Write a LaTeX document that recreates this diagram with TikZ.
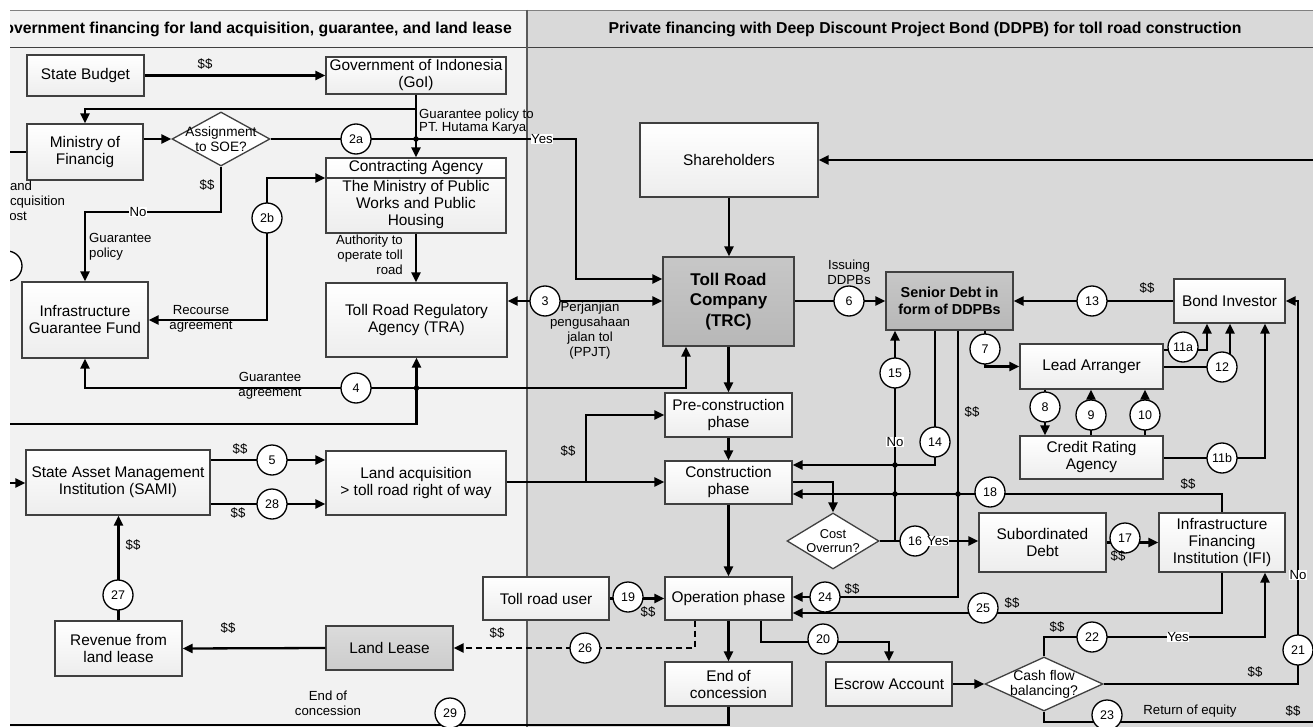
\documentclass[tikz,border=0pt]{standalone}
\usepackage{fontspec}
\setmainfont{Liberation Sans}
\usetikzlibrary{arrows.meta,shapes.geometric,calc}
\definecolor{leftbg}{HTML}{F2F2F2}
\definecolor{rightbg}{HTML}{D9D9D9}
\definecolor{bord}{HTML}{404040}
\newcommand\fsbox{\fontsize{15.4}{17}\selectfont}
\newcommand\fslab{\fontsize{13.2}{15}\selectfont}
\newcommand\fslabt{\fontsize{13.2}{13}\selectfont}
\newcommand\fsnum{\fontsize{12.5}{14}\selectfont}
\newcommand\fshdr{\bfseries\fontsize{15.8}{18}\selectfont}
\newcommand\fstrc{\bfseries\fontsize{17}{20.5}\selectfont}
\newcommand\fssd{\bfseries\fontsize{14.4}{17}\selectfont}
\newcommand\fsdia{\fontsize{13.6}{14.5}\selectfont}
\begin{document}
\begin{tikzpicture}[x=1pt,y=-1pt,>={Triangle[length=10pt,width=9pt]},
  box/.style={draw=bord,line width=1.3pt,top color=white,bottom color=black!7,align=center,font=\fsbox,inner sep=1pt},
  darkbox/.style={box,top color=black!22,bottom color=black!28},
  midbox/.style={box,top color=black!14,bottom color=black!20},
  dia/.style={diamond,draw=bord,line width=1.3pt,fill=white,inner sep=0pt},
  dtext/.style={align=center,font=\fsdia,inner sep=0pt},
  intext/.style={align=center,font=\fsbox,inner sep=0pt},
  conn/.style={line width=2.3pt,draw=black},
  numc/.style={circle,draw=black,line width=1.3pt,fill=white,minimum size=30pt,inner sep=0pt,font=\fsnum},
  lab/.style={font=\fslab,inner sep=1pt,align=center},
  yn/.style={lab,fill=white,inner sep=0.5pt},
  jdot/.style={circle,fill=black,inner sep=0pt,minimum size=5.5pt},
  hdr/.style={font=\fshdr,inner sep=0pt}]
\useasboundingbox (0,0) rectangle (1313,727);
\fill[white] (0,0) rectangle (1313,727);
\begin{scope}
\clip (10,10) rectangle (1313,727);
% panels
\fill[leftbg] (10,10) rectangle (527,727);
\fill[rightbg] (527,10) rectangle (1313,727);
\draw[black!50,line width=1.5pt] (10,10.7) -- (1313,10.7);
\draw[bord,line width=1.5pt] (10,47.5) -- (1313,47.5);
\draw[black!65,line width=2pt] (527,10) -- (527,727);
\node[hdr,anchor=east] (hl) at (512,29) {Government financing for land acquisition, guarantee, and land lease};
\node[hdr] (hr) at (925,29) {Private financing with Deep Discount Project Bond (DDPB) for toll road construction};

% boxes
\node[box,minimum width=117pt,minimum height=41pt] (sb) at (85.5,75.5) {State Budget};
\node[box,minimum width=180pt,minimum height=37pt] (goi) at (416,75.5) {Government of Indonesia\\(GoI)};
\node[box,minimum width=116pt,minimum height=56pt] (mof) at (85,152) {Ministry of\\Financig};
\node[dia,minimum width=98pt,minimum height=54pt] (d1) at (221,139) {};
\node[dtext] (d1t) at (d1) {Assignment\\to SOE?};
\node[box,minimum width=180pt,minimum height=75pt] (ca) at (416,195.5) {};
\draw[bord,line width=1.3pt] (ca.west |- 0,178) -- (ca.east |- 0,178);
\node[intext] (cat) at (416,168) {Contracting Agency};
\node[intext] (cab) at (416,205) {The Ministry of Public\\Works and Public\\Housing};
\node[box,minimum width=126pt,minimum height=76pt] (igf) at (85,320) {Infrastructure\\Guarantee Fund};
\node[box,minimum width=181pt,minimum height=74pt] (tra) at (416.5,320) {Toll Road Regulatory\\Agency (TRA)};
\node[box,minimum width=184pt,minimum height=65pt] (sami) at (118,482.5) {State Asset Management\\Institution (SAMI)};
\node[box,minimum width=180pt,minimum height=64pt] (la) at (416,483) {Land acquisition\\> toll road right of way};
\node[box,minimum width=127pt,minimum height=55pt] (rev) at (118.5,648.5) {Revenue from\\land lease};
\node[midbox,minimum width=127pt,minimum height=44pt] (ll) at (389.5,648) {Land Lease};
\node[box,minimum width=178pt,minimum height=74pt] (sh) at (729,160) {Shareholders};
\node[darkbox,minimum width=131pt,minimum height=89pt,font=\fstrc] (trc) at (728.5,301.5) {Toll Road\\Company\\(TRC)};
\node[box,minimum width=127pt,minimum height=44pt] (pre) at (728.5,415) {Pre-construction\\phase};
\node[box,minimum width=127pt,minimum height=43pt] (con) at (728.5,482.5) {Construction\\phase};
\node[box,minimum width=127pt,minimum height=43pt] (op) at (728.5,598.5) {Operation phase};
\node[box,minimum width=127pt,minimum height=44pt] (eoc) at (728.5,684) {End of\\concession};
\node[box,minimum width=126pt,minimum height=43pt] (tru) at (546,598.5) {Toll road user};
\node[box,minimum width=126pt,minimum height=44pt] (esc) at (889,684) {Escrow Account};
\node[darkbox,minimum width=127pt,minimum height=58pt,font=\fssd] (sd) at (949.5,301) {Senior Debt in\\form of DDPBs};
\node[box,minimum width=111pt,minimum height=44pt] (bi) at (1229.5,301) {Bond Investor};
\node[box,minimum width=143pt,minimum height=45pt] (lar) at (1091.5,366.5) {Lead Arranger};
\node[box,minimum width=143pt,minimum height=43pt] (cra) at (1091.5,457.5) {Credit Rating\\Agency};
\node[box,minimum width=127pt,minimum height=59pt] (sub) at (1042.5,542.5) {Subordinated\\Debt};
\node[box,minimum width=126pt,minimum height=59pt] (ifi) at (1222,542.5) {Infrastructure\\Financing\\Institution (IFI)};
\node[dia,minimum width=92pt,minimum height=56pt] (d2) at (833,541) {};
\node[dtext,font=\fontsize{12.8}{14.5}\selectfont] (d2t) at (d2) {Cost\\Overrun?};
\node[dia,minimum width=118pt,minimum height=54pt] (d3) at (1044,684) {};
\node[dtext,font=\fontsize{14}{15}\selectfont] (d3t) at (d3) {Cash flow\\balancing?};

% connectors
\draw[conn,->] (sb) -- (goi);
\draw[conn,->] (goi.south) -- (ca.north);
\draw[conn,->] (goi.south |- 0,109) -| (mof.north);
\draw[conn,->] (mof.east |- d1.west) -- (d1.west);
\draw[conn,->] (d1.east) -- (576,139) -- (576,279) -- (trc.west |- 0,279);
\draw[conn,->] (d1.south) |- (85,212) -- (igf.north);
\draw[conn,<->] (igf.east) -| (267,178) -- (ca.west |- 0,178);
\draw[conn,->] (ca.south) -- (ca.south |- tra.north);
\draw[conn,<->] (tra.east |- 0,301) -- (trc.west |- 0,301);
\draw[conn,<->] (igf.south) |- (686,388) -- (trc.south -| 686,0);
\draw[conn,->] (0,424) -| (tra.south);
\draw[conn] (0,152) -- (mof.west);
\draw[conn,->] (0,483) -- (sami.west |- 0,483);
\draw[conn,->] (sami.east |- 0,460) -- (la.west |- 0,460);
\draw[conn,->] (sami.east |- 0,504) -- (la.west |- 0,504);
\draw[conn,->] (la.east |- 0,482) -- (con.west |- 0,482);
\draw[conn,->] (586,482) |- (pre.west);
\draw[conn,->] (sh.south) -- (sh.south |- trc.north);
\draw[conn,->] (1320,160) -- (sh.east);
\draw[conn,->] (trc.south) -- (pre.north);
\draw[conn,->] (pre.south) -- (con.north);
\draw[conn,->] (con.south) -- (op.north);
\draw[conn,->] (op.south) -- (eoc.north);
\draw[conn,->] (trc.east |- 0,301) -- (sd.west |- 0,301);
\draw[conn,->] (bi.west) -- (sd.east);
\draw[conn,->] (sd.south -| 985,0) |- (lar.west);
\draw[conn,->] (lar.south -| 1045,0) -- (cra.north -| 1045,0);
\draw[conn,->] (cra.north -| 1091,0) -- (lar.south -| 1091,0);
\draw[conn,->] (cra.north -| 1145,0) -- (lar.south -| 1145,0);
\draw[conn,->] (lar.east |- 0,350) -| (bi.south -| 1207,0);
\draw[conn,->] (lar.east |- 0,367) -| (bi.south -| 1230,0);
\draw[conn,->] (cra.east |- 0,458) -| (bi.south -| 1265,0);
\draw[conn,->] (d2.east) -| (sd.south -| 895,0);
\draw[conn,->] (d2.east) -- (sub.west |- d2.east);
\draw[conn,->] (sd.south -| 935,0) |- (con.east |- 0,465);
\draw[conn,->] (sd.south -| 958,0) |- (op.east |- 0,597);
\draw[conn,->] (con.east |- 0,482) -| (d2.north);
\draw[conn,->] (ifi.north) |- (con.east |- 0,494);
\draw[conn,->] (sub.east) -- (ifi.west);
\draw[conn,->] (ifi.south) |- (op.east |- 0,613);
\draw[conn,->] (tru.east) -- (op.west);
\draw[conn,dash pattern=on 6pt off 4pt,->] (op.south -| 695,0) |- (ll.east);
\draw[conn,->] (ll.west) -- (rev.east);
\draw[conn,->] (rev.north) -- (rev.north |- sami.south);
\draw[conn,->] (op.south -| 761,0) |- (esc.north |- 0,642) -- (esc.north);
\draw[conn,->] (esc.east) -- (d3.west);
\draw[conn,->] (d3.north) |- (1265,637) -- (ifi.south -| 1265,0);
\draw[conn,->] (d3.east) -| (1298,301) -- (bi.east);
\draw[conn] (d3.south) |- (1320,722);
\draw[conn] (eoc.south) |- (0,725);

% junction dots
\node[jdot] (j1) at (416,139) {};
\node[jdot] (j2) at (416.5,388) {};
\node[jdot] (j3) at (895,465) {};
\node[jdot] (j4) at (895,494) {};
\node[jdot] (j5) at (958,494) {};

% numbered circles
\node[numc] (n2a) at (356,139) {2a};
\node[numc] (n2b) at (267,218) {2b};
\node[numc] (n3) at (545,301) {3};
\node[numc] (n4) at (356,388) {4};
\node[numc] (n5) at (272,460) {5};
\node[numc] (n28) at (272,504) {28};
\node[numc] (n6) at (849,301) {6};
\node[numc] (n13) at (1092,301) {13};
\node[numc] (n7) at (985,349) {7};
\node[numc] (n8) at (1045,407) {8};
\node[numc] (n9) at (1091,415) {9};
\node[numc] (n10) at (1145,415) {10};
\node[numc] (n11a) at (1183,347) {11a};
\node[numc] (n12) at (1222,367) {12};
\node[numc] (n11b) at (1222,458) {11b};
\node[numc] (n15) at (895,373) {15};
\node[numc] (n14) at (935,442) {14};
\node[numc] (n16) at (915,541) {16};
\node[numc] (n17) at (1125,538) {17};
\node[numc] (n18) at (990,492) {18};
\node[numc] (n19) at (628,597) {19};
\node[numc] (n24) at (825,597) {24};
\node[numc] (n25) at (983,608) {25};
\node[numc] (n20) at (823,639) {20};
\node[numc] (n26) at (585,648) {26};
\node[numc] (n27) at (118,595) {27};
\node[numc] (n22) at (1092,637) {22};
\node[numc] (n21) at (1298,650) {21};
\node[numc] (n23) at (1107,715) {23};
\node[numc] (n29) at (450,713) {29};
\node[numc] (nx) at (7,266) {};

% labels
\node[lab] (l1) at (205,64) {\$\$};
\node[lab,font=\fslabt,align=left,anchor=west] (l2) at (418,122) {Guarantee policy to\\PT. Hutama Karya};
\node[yn] (l3) at (542,139) {Yes};
\node[lab] (l4) at (207,185) {\$\$};
\node[yn] (l5) at (138,212) {No};
\node[lab,align=left,anchor=west] (l6) at (88,247) {Guarantee\\policy};
\node[lab] (l7) at (201,318.5) {Recourse\\agreement};
\node[lab,align=right,anchor=east] (l8) at (404,255) {Authority to\\operate toll\\road};
\node[lab] (l9) at (590,331) {Perjanjian\\pengusahaan\\jalan tol\\(PPJT)};
\node[lab] (l10) at (270,385.5) {Guarantee\\agreement};
\node[lab] (l11) at (240,449) {\$\$};
\node[lab] (l12) at (238,513) {\$\$};
\node[lab] (l13) at (568,451) {\$\$};
\node[lab] (l14) at (849,272) {Issuing\\DDPBs};
\node[lab] (l15) at (1147,288) {\$\$};
\node[yn] (l16) at (895,442) {No};
\node[yn] (l17) at (938,541) {Yes};
\node[lab] (l18) at (972,412) {\$\$};
\node[lab] (l19) at (852,589) {\$\$};
\node[lab] (l20) at (1188,484) {\$\$};
\node[lab] (l21) at (1118,556) {\$\$};
\node[lab] (l22) at (1012,603) {\$\$};
\node[lab] (l23) at (648,612) {\$\$};
\node[lab] (l24) at (497,633) {\$\$};
\node[lab] (l25) at (228,628) {\$\$};
\node[lab] (l26) at (133,545) {\$\$};
\node[yn] (l27) at (1178,637) {Yes};
\node[lab] (l28) at (1057,627) {\$\$};
\node[yn] (l29) at (1298,575) {No};
\node[lab] (l30) at (1255,672) {\$\$};
\node[lab] (l31) at (1190,711) {Return of equity};
\node[lab] (l32) at (1293,711) {\$\$};
\node[lab] (l33) at (328,703.5) {End of\\concession};
\node[lab,align=left,anchor=west] (l34) at (1.5,201) {Land\\acquisition\\cost};
\end{scope}
\end{tikzpicture}
\end{document}
